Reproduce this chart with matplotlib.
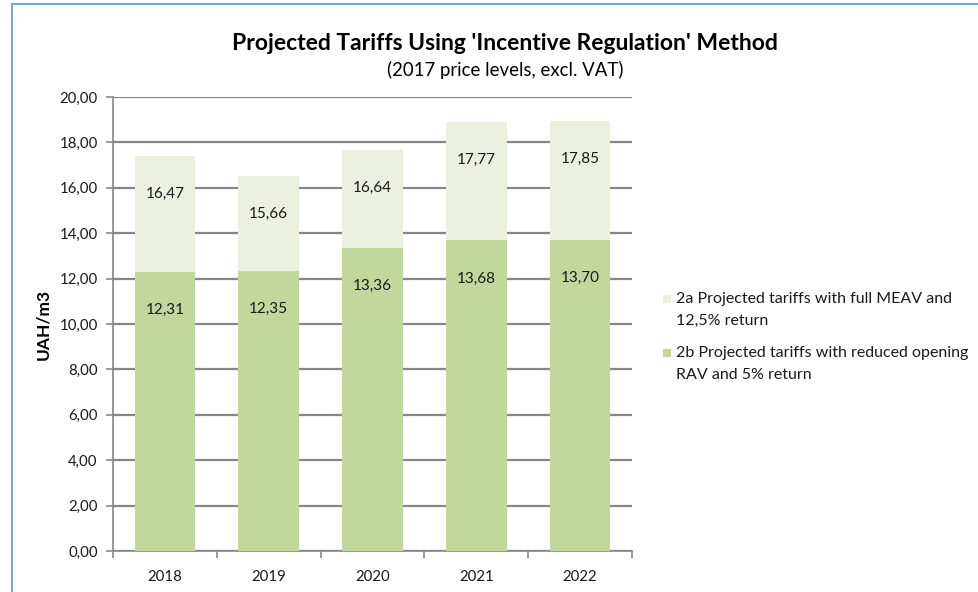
import matplotlib
matplotlib.use("Agg")
import matplotlib.pyplot as plt
from matplotlib.lines import Line2D
from matplotlib.patches import Rectangle
import numpy as np

years = ["2018", "2019", "2020", "2021", "2022"]
# bar heights as drawn in the chart
full_meav_height = [17.39, 16.52, 17.68, 18.91, 18.94]
reduced_rav = [12.31, 12.35, 13.36, 13.68, 13.70]
# data labels as printed
full_meav_labels = [16.47, 15.66, 16.64, 17.77, 17.85]
series_names = ["2a Projected tariffs with full MEAV and\n12,5% return",
                "2b Projected tariffs with reduced opening\nRAV and 5% return"]
yticks = [0, 2, 4, 6, 8, 10, 12, 14, 16, 18, 20]

plt.rcParams['font.family'] = ['Lato', 'DejaVu Sans']
W, H = 979, 592
fig = plt.figure(figsize=(W / 100, H / 100), dpi=100)
fig.patch.set_facecolor('white')

ax = fig.add_axes([113 / W, 1 - 551 / H, (632 - 113) / W, (551 - 97) / H])
x = np.arange(len(years))
light = '#EBF1DE'
green = '#C3D69B'
grid_c = '#868686'
txt_c = '#1a1a1a'

b1 = ax.bar(x, full_meav_height, width=0.585, color=light, zorder=2)
b2 = ax.bar(x, reduced_rav, width=0.585, color=green, zorder=3)

def fmt(v):
    return f"{v:.2f}".replace('.', ',')

off = -38 * 0.72
for xi, h, lab in zip(x, full_meav_height, full_meav_labels):
    ax.annotate(fmt(lab), (xi, h), xytext=(0, off), textcoords='offset points',
                ha='center', va='center', fontsize=11, color=txt_c, zorder=5)
for xi, v in zip(x, reduced_rav):
    ax.annotate(fmt(v), (xi, v), xytext=(0, off), textcoords='offset points',
                ha='center', va='center', fontsize=11, color=txt_c, zorder=5)

ax.set_ylim(0, 20)
ax.set_xlim(-0.5, len(years) - 0.5)
ax.set_yticks(yticks)
ax.set_yticklabels([fmt(t) for t in yticks], fontsize=10.8, color=txt_c)
ax.yaxis.grid(True, color=grid_c, linewidth=1.6, zorder=1)
ax.set_axisbelow(True)

ax.set_xticks(x)
ax.set_xticklabels(years, fontsize=10.8, color=txt_c)
ax.tick_params(axis='x', length=0, pad=14)
ax.set_xticks(np.arange(-0.5, len(years), 1.0), minor=True)
ax.tick_params(axis='x', which='minor', length=5, color=grid_c, width=1.2)
ax.tick_params(axis='y', length=5, color=grid_c, width=1.2, pad=6)

for s in ['top', 'right']:
    ax.spines[s].set_visible(False)
for s in ['left', 'bottom']:
    ax.spines[s].set_color(grid_c)
    ax.spines[s].set_linewidth(1.2)

ax.set_ylabel('UAH/m3', fontsize=12.5, fontweight='bold', labelpad=6)

fig.text(505 / W, 1 - 44 / H, "Projected Tariffs Using 'Incentive Regulation' Method",
         ha='center', va='center', fontsize=16.5, fontweight='bold')
fig.text(505 / W, 1 - 70 / H, "(2017 price levels, excl. VAT)",
         ha='center', va='center', fontsize=13.4)

# legend (handles aligned with first text line)
leg_colors = [light, green]
leg_tops = [299, 353]
for col, name, yc in zip(leg_colors, series_names, leg_tops):
    fig.add_artist(Rectangle((663 / W, 1 - (yc + 4) / H), 8 / W, 8 / H,
                             transform=fig.transFigure, facecolor=col, edgecolor='none'))
    fig.text(676 / W, 1 - (yc - 7) / H, name, ha='left', va='top',
             fontsize=11.5, color=txt_c, linespacing=1.7)

# chart frame
fig.add_artist(Line2D([12 / W, 12 / W], [0, 1 - 4 / H], transform=fig.transFigure,
                      color='#7FA3D3', linewidth=1.5))
fig.add_artist(Line2D([12 / W, 1], [1 - 4 / H, 1 - 4 / H], transform=fig.transFigure,
                      color='#7FA3D3', linewidth=1.5))

fig.savefig('out.png', dpi=100)
